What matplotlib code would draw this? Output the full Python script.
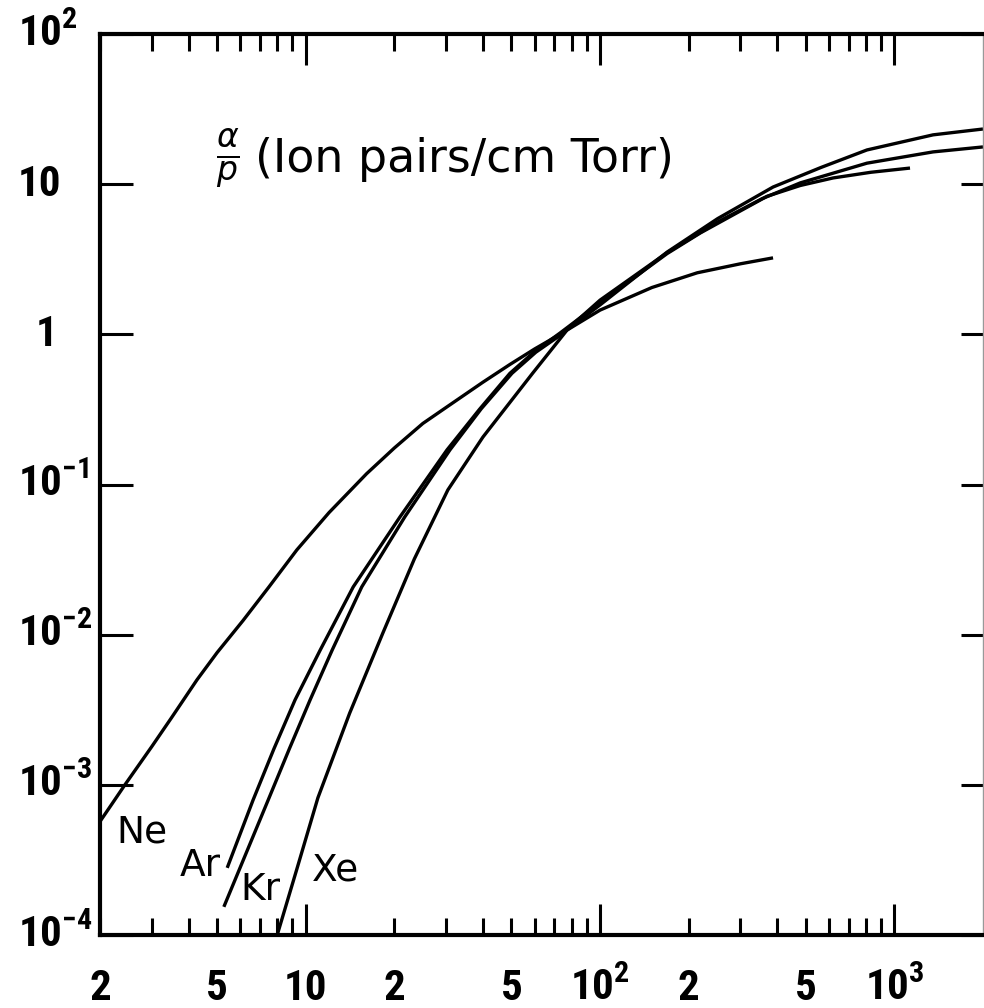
import matplotlib
matplotlib.use('Agg')
import matplotlib.pyplot as plt
from matplotlib import font_manager
from matplotlib.ticker import FixedLocator, FixedFormatter

# E/p (V/cm Torr) against alpha/p (ion pairs/cm Torr)
ne_x = [2.0, 2.2, 2.43, 3.0, 3.5, 4.27, 5.0, 6.12, 7.5, 9.33, 12, 16.1, 20, 25,
        30.2, 40, 49.4, 60, 73.1, 100, 150, 214, 300, 387]
ne_y = [5.7e-4, 7.5e-4, 1.0e-3, 1.8e-3, 2.8e-3, 5.0e-3, 7.6e-3, 1.24e-2, 2.08e-2,
        3.67e-2, 6.5e-2, 0.118, 0.175, 0.255, 0.329, 0.48, 0.63, 0.80, 1.0, 1.45,
        2.05, 2.57, 2.95, 3.23]

ar_x = [5.41, 6.62, 7.8, 9.20, 11.2, 14.5, 20.9, 30.2, 38.9, 49.4, 60, 73.1, 106,
        169, 219, 369, 479, 619, 832, 1130]
ar_y = [2.8e-4, 7.9e-4, 1.74e-3, 3.68e-3, 7.9e-3, 0.0208, 0.0608, 0.170, 0.316,
        0.55, 0.77, 1.02, 1.77, 3.45, 4.73, 8.3, 9.8, 11.0, 12.0, 12.8]

kr_x = [5.27, 7.45, 8.8, 10.35, 12.3, 15.5, 21.7, 30.9, 39.5, 50.2, 60.5, 74, 100,
        169, 251, 355, 479, 807, 1353, 2000]
kr_y = [1.54e-4, 7.9e-4, 1.74e-3, 3.68e-3, 7.9e-3, 0.0208, 0.0608, 0.170, 0.32,
        0.55, 0.76, 1.0, 1.69, 3.5, 5.6, 8.0, 10.2, 13.8, 16.4, 17.7]

xe_x = [8.0, 9.33, 11.0, 14.1, 18.3, 23.4, 30.4, 40.0, 59.1, 77.3, 100, 169, 251,
        387, 562, 807, 1353, 2000]
xe_y = [1.0e-4, 2.75e-4, 8.2e-4, 3.0e-3, 1.03e-2, 0.032, 9.2e-2, 0.207, 0.553,
        1.07, 1.57, 3.53, 5.9, 9.57, 12.9, 16.9, 21.3, 23.3]

gas_names = ['Ne', 'Ar', 'Kr', 'Xe']
gas_label_x = [2.78, 4.37, 7.0, 12.6]
gas_label_y = [4.8e-4, 2.9e-4, 2.0e-4, 2.7e-4]

x_major = [10, 100, 1000]
x_major_labels = ['10', r'$10^{2}$', r'$10^{3}$']
x_minor = [m * d for d in (1, 10, 100) for m in range(2, 10)]
x_minor_labels = [str(m) if m in (2, 5) else '' for d in (1, 10, 100) for m in range(2, 10)]

y_ticks = [1e-4, 1e-3, 1e-2, 1e-1, 1, 10, 100]
y_labels = [r'$10^{-4}$', r'$10^{-3}$', r'$10^{-2}$', r'$10^{-1}$', r'$\;\;1$', '10', r'$10^{2}$']

# pick a narrow face for the tick numbers if one is installed
names = {f.name for f in font_manager.fontManager.ttflist}
narrow = 'DejaVu Sans'
for cand in ['Roboto Condensed', 'Liberation Sans Narrow', 'DejaVu Sans Condensed']:
    if cand in names:
        narrow = cand
        break

plt.rcParams['mathtext.fontset'] = 'custom'
plt.rcParams['mathtext.rm'] = narrow + ':bold'
plt.rcParams['mathtext.it'] = narrow + ':italic:bold'
plt.rcParams['mathtext.bf'] = narrow + ':bold'

fig = plt.figure(figsize=(9.84, 10.08), dpi=100)
ax = fig.add_axes([100 / 984, 73 / 1008, 883 / 984, 901 / 1008])
ax.set_xscale('log')
ax.set_yscale('log')
ax.set_xlim(2, 2000)
ax.set_ylim(1e-4, 1e2)

for xs, ys in [(ne_x, ne_y), (ar_x, ar_y), (kr_x, kr_y), (xe_x, xe_y)]:
    ax.plot(xs, ys, color='black', lw=2.4, solid_capstyle='butt', solid_joinstyle='round')

for name, lx, ly in zip(gas_names, gas_label_x, gas_label_y):
    ax.text(lx, ly, name, fontsize=27, family='DejaVu Sans', ha='center', va='center')

# axis title inside the plot
ax.text(0.145, 0.862, r'$\frac{\alpha}{p}$', transform=ax.transAxes, fontsize=34,
        math_fontfamily='dejavusans', ha='center', va='center')
ax.text(0.1755, 0.8468, '(Ion pairs/cm Torr)', transform=ax.transAxes, fontsize=33,
        family='DejaVu Sans', ha='left', va='baseline')

# ticks
ax.xaxis.set_major_locator(FixedLocator(x_major))
ax.xaxis.set_major_formatter(FixedFormatter(x_major_labels))
ax.xaxis.set_minor_locator(FixedLocator(x_minor))
ax.xaxis.set_minor_formatter(FixedFormatter(x_minor_labels))
ax.yaxis.set_major_locator(FixedLocator(y_ticks))
ax.yaxis.set_major_formatter(FixedFormatter(y_labels))
ax.yaxis.set_minor_locator(FixedLocator([]))

ax.tick_params(axis='x', which='both', direction='in', top=True, bottom=True,
               labelsize=31, pad=47, width=2.2)
ax.tick_params(axis='x', which='major', length=22)
ax.tick_params(axis='x', which='minor', length=12)
ax.tick_params(axis='y', which='major', direction='in', left=True, right=True,
               labelsize=31, pad=59, length=24, width=2.2)
for t in ax.yaxis.get_major_ticks():
    t.tick2line.set_markersize(16)

for lbl in ax.get_xticklabels(which='both'):
    lbl.set_va('baseline')
    lbl.set_family(narrow)
    lbl.set_weight('bold')
for lbl in ax.get_yticklabels():
    lbl.set_ha('left')
    lbl.set_va('center')
    lbl.set_family(narrow)
    lbl.set_weight('bold')

for side in ['left', 'bottom', 'top']:
    ax.spines[side].set_linewidth(3)
ax.spines['right'].set_linewidth(1)
ax.spines['right'].set_color('0.6')

fig.savefig('out.png', dpi=100)
